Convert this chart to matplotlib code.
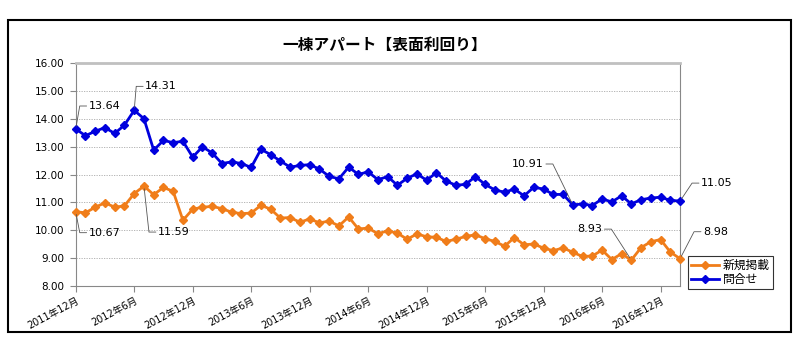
import math

import matplotlib
matplotlib.use('Agg')
import matplotlib.pyplot as plt
from matplotlib.patches import Rectangle

plt.rcParams['font.family'] = ['DejaVu Sans', 'Noto Sans CJK JP']

# monthly series, 2011年12月 .. 2017年2月
shinki = [10.67, 10.63, 10.83, 10.99, 10.83, 10.88, 11.32, 11.59, 11.28, 11.54,
          11.40, 10.36, 10.76, 10.83, 10.86, 10.78, 10.65, 10.60, 10.62, 10.90,
          10.76, 10.44, 10.46, 10.29, 10.41, 10.27, 10.33, 10.16, 10.48, 10.05,
          10.08, 9.88, 9.98, 9.90, 9.68, 9.87, 9.77, 9.75, 9.60, 9.68,
          9.78, 9.84, 9.70, 9.60, 9.43, 9.74, 9.48, 9.51, 9.36, 9.27,
          9.37, 9.21, 9.06, 9.08, 9.29, 8.95, 9.16, 8.93, 9.38, 9.59,
          9.67, 9.22, 8.98]
toiawase = [13.64, 13.40, 13.56, 13.69, 13.48, 13.78, 14.31, 14.01, 12.88, 13.23,
            13.15, 13.20, 12.63, 13.00, 12.78, 12.40, 12.46, 12.40, 12.26, 12.91,
            12.72, 12.49, 12.27, 12.33, 12.36, 12.20, 11.94, 11.85, 12.27, 12.01,
            12.10, 11.82, 11.93, 11.62, 11.87, 12.03, 11.80, 12.07, 11.77, 11.62,
            11.65, 11.93, 11.65, 11.45, 11.37, 11.48, 11.24, 11.55, 11.48, 11.29,
            11.29, 10.91, 10.95, 10.89, 11.13, 11.02, 11.24, 10.95, 11.10, 11.16,
            11.19, 11.08, 11.05]
tick_labels = ['2011年12月', '2012年6月', '2012年12月', '2013年6月', '2013年12月',
               '2014年6月', '2014年12月', '2015年6月', '2015年12月', '2016年6月',
               '2016年12月']
series_names = ['新規掲載', '問合せ']

orange = '#F07D1A'
blue = '#0000DD'

fig = plt.figure(figsize=(8.03, 3.45), dpi=100)
ax = fig.add_axes([0.0943, 0.171, 0.7526, 0.6455])

xs = list(range(len(shinki)))
ax.plot(xs, shinki, color=orange, lw=2, marker='D', ms=3.8, clip_on=False,
        label=series_names[0], zorder=3)
ax.plot(xs, toiawase, color=blue, lw=2, marker='D', ms=3.8, clip_on=False,
        label=series_names[1], zorder=3)

ax.set_xlim(0, len(shinki) - 1)
ax.set_ylim(8, 16)
ax.set_yticks(range(8, 17))
ax.set_yticklabels(['%.2f' % v for v in range(8, 17)], fontsize=7.5)
ax.set_xticks(range(0, 6 * len(tick_labels), 6))
ax.set_xticklabels(tick_labels, fontsize=7, rotation=28, ha='right',
                   va='top', rotation_mode='anchor')
ax.tick_params(axis='both', direction='out', length=4, color='#888888', width=0.8)
ax.tick_params(axis='x', pad=3)
ax.tick_params(axis='y', pad=4)

for y in range(9, 16):
    ax.axhline(y, color='#aaaaaa', lw=0.6, ls=(0, (1.5, 1.5)), zorder=1)

for side in ['left', 'right', 'bottom']:
    ax.spines[side].set_color('#888888')
    ax.spines[side].set_linewidth(0.8)
ax.spines['top'].set_color('#c0c0c0')
ax.spines['top'].set_linewidth(2)

# data labels with leader lines: (series, index, dx px, dy px (down+), side)
labels = [
    (toiawase, 0, 13, -23, 'left'),
    (toiawase, 6, 11, -24, 'left'),
    (shinki, 0, 13, 21, 'left'),
    (shinki, 7, 14, 46, 'left'),
    (toiawase, 51, -29, -41, 'right'),
    (toiawase, 62, 21, -18, 'left'),
    (shinki, 57, -29, -31, 'right'),
    (shinki, 62, 23, -27, 'left'),
]
for vals, i, dx, dy, side in labels:
    ex = dx - 9 if side == 'left' else dx + 9
    ang = math.degrees(math.atan2(-dy, ex))
    ax.annotate('%.2f' % vals[i], xy=(i, vals[i]), xytext=(dx * 0.72, -dy * 0.72),
                textcoords='offset points', ha=side, va='center', fontsize=8,
                annotation_clip=False,
                arrowprops=dict(arrowstyle='-', color='#555555', lw=0.6,
                                shrinkA=1.5, shrinkB=2, patchA=None,
                                relpos=(0, 0.5) if side == 'left' else (1, 0.5),
                                connectionstyle='angle,angleA=0,angleB=%.1f,rad=0' % ang))

fig.text(385 / 803, 1 - 45 / 345, '一棟アパート【表面利回り】', ha='center', va='center',
         fontsize=11.3, fontweight='bold', family=['Noto Sans CJK JP', 'DejaVu Sans'])

leg = ax.legend(loc='upper left', bbox_to_anchor=(688 / 803, 1 - 256 / 345),
                bbox_transform=fig.transFigure, frameon=True,
                fancybox=False, edgecolor='black', borderpad=0.25,
                labelspacing=0.1, handlelength=2.4, handletextpad=0.3,
                borderaxespad=0, prop={'family': ['Noto Sans CJK JP'], 'size': 8.5})
leg.get_frame().set_linewidth(0.8)

fig.patches.append(Rectangle((8 / 803, 1 - 332 / 345), 783 / 803, 312 / 345,
                             transform=fig.transFigure, fill=False, lw=1.5,
                             ec='black'))

fig.savefig('out.png', dpi=100)
